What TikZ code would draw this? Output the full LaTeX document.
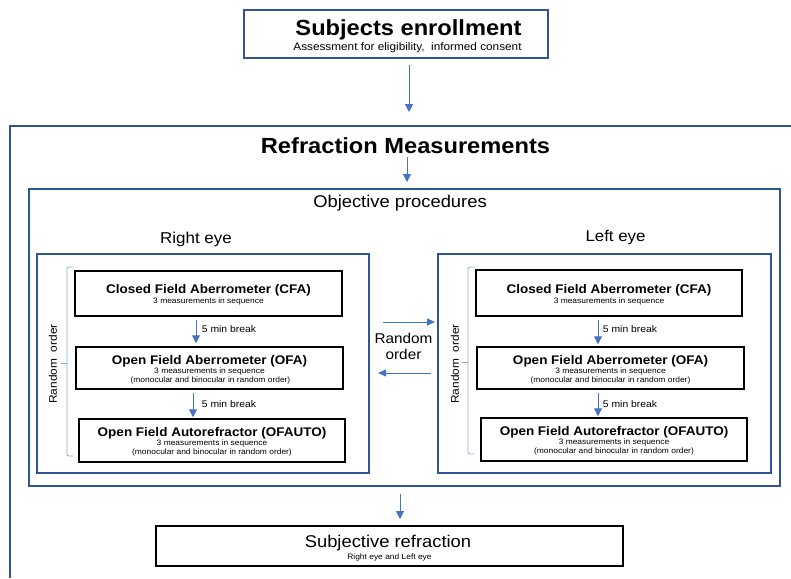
\documentclass[tikz,border=0pt]{standalone}
\usepackage{fontspec}
\setmainfont{Liberation Sans}[FakeStretch=1.08]
\usetikzlibrary{arrows.meta}
\definecolor{boxblue}{HTML}{2F5597}
\definecolor{arrblue}{HTML}{4472C4}
\definecolor{brkblue}{HTML}{8FAADC}
\newcommand{\myfs}[1]{\fontsize{#1}{#1}\selectfont}
\begin{document}
\begin{tikzpicture}[x=1pt,y=-1pt,
  bluebox/.style={draw=boxblue, line width=1.3pt, inner sep=0pt},
  blackbox/.style={draw=black, line width=1.5pt, inner sep=0pt, fill=white},
  txt/.style={inner sep=0pt, anchor=base},
  arr/.style={draw=arrblue, line width=1pt, -{Triangle[width=8pt,length=8pt]}},
  thinarr/.style={draw=arrblue, line width=0.8pt, -{Triangle[width=7pt,length=8pt]}},
  brk/.style={draw=brkblue, line width=0.8pt, rounded corners=2pt},
  boxtitle/.style={txt, font=\bfseries\myfs{12.5}},
  boxsub/.style={txt, font=\myfs{7.8}},
  brklabel/.style={txt, font=\myfs{9.6}}
]
\useasboundingbox (0,0) rectangle (791,578);
\fill[white] (0,0) rectangle (791,578);

% outer refraction box (partly outside the picture)
\coordinate (outTL) at (10,126);
\draw[boxblue, line width=1.3pt] (10,578) -- (outTL) -- (791,126);

% enrollment
\node[bluebox, minimum width=304pt, minimum height=48pt] (enroll) at (396,34) {};
\node[txt, font=\bfseries\myfs{21.9}] (enrollT) at (408.5,36) {Subjects enrollment};
\node[txt, font=\myfs{10.9}] (enrollS) at (407.5,50.7) {Assessment for eligibility,\ \ informed consent};
\coordinate (refTop) at (409,112);
\draw[arr] (409,65) -- (refTop);

% refraction title
\node[txt, font=\bfseries\myfs{21.9}] (refT) at (405.5,153) {Refraction Measurements};
\coordinate (objTop) at (407,182);
\draw[arr] (407,157) -- (objTop);

% objective procedures
\node[bluebox, minimum width=751pt, minimum height=297pt] (obj) at (404.5,337.5) {};
\node[txt, font=\myfs{17}] (objT) at (400,207.3) {Objective procedures};

\node[txt, font=\myfs{15.7}] (rightT) at (196,243) {Right eye};
\node[txt, font=\myfs{15.6}] (leftT) at (615.5,241) {Left eye};

% eye boxes
\node[bluebox, minimum width=332pt, minimum height=219pt] (reye) at (203,363.5) {};
\node[bluebox, minimum width=333pt, minimum height=219pt] (leye) at (604.5,363.5) {};

% right eye inner boxes
\node[blackbox, minimum width=267pt, minimum height=45pt] (cfaR) at (208.5,293.5) {};
\node[boxtitle] (cfaRt) at (208.5,293.3) {Closed Field Aberrometer (CFA)};
\node[boxsub] (cfaRs) at (208.5,303.3) {3 measurements in sequence};

\node[blackbox, minimum width=267pt, minimum height=42pt] (ofaR) at (209.5,368) {};
\node[boxtitle] (ofaRt) at (209.5,364) {Open Field Aberrometer (OFA)};
\node[boxsub] (ofaRs) at (209.5,373.3) {3 measurements in sequence};
\node[boxsub] (ofaRm) at (210.5,382.3) {(monocular and binocular in random order)};

\node[blackbox, minimum width=266pt, minimum height=43pt] (autoR) at (212,440.5) {};
\node[boxtitle] (autoRt) at (212,436) {Open Field Autorefractor (OFAUTO)};
\node[boxsub] (autoRs) at (212,445) {3 measurements in sequence};
\node[boxsub] (autoRm) at (212,454) {(monocular and binocular in random order)};

% left eye inner boxes
\node[blackbox, minimum width=266pt, minimum height=46pt] (cfaL) at (609,293) {};
\node[boxtitle] (cfaLt) at (609,293.3) {Closed Field Aberrometer (CFA)};
\node[boxsub] (cfaLs) at (609,303.3) {3 measurements in sequence};

\node[blackbox, minimum width=267pt, minimum height=42pt] (ofaL) at (610.5,368) {};
\node[boxtitle] (ofaLt) at (610.5,364) {Open Field Aberrometer (OFA)};
\node[boxsub] (ofaLs) at (610.5,373.3) {3 measurements in sequence};
\node[boxsub] (ofaLm) at (610.5,382.3) {(monocular and binocular in random order)};

\node[blackbox, minimum width=266pt, minimum height=43pt] (autoL) at (614,439.5) {};
\node[boxtitle] (autoLt) at (614,435.7) {Open Field Autorefractor (OFAUTO)};
\node[boxsub] (autoLs) at (614,444.7) {3 measurements in sequence};
\node[boxsub] (autoLm) at (614,453.7) {(monocular and binocular in random order)};

% arrows inside eyes
\draw[arr, shorten <=3pt, shorten >=3pt] ([xshift=-12.5pt]cfaR.south) -- ([xshift=-13.5pt]ofaR.north);
\draw[arr, shorten <=3pt, shorten >=1pt] ([xshift=-16.5pt]ofaR.south) -- ([xshift=-19pt]autoR.north);
\draw[arr, shorten <=3pt, shorten >=2pt] ([xshift=-11pt]cfaL.south) -- ([xshift=-12.5pt]ofaL.north);
\draw[arr, shorten <=3pt, shorten >=1pt] ([xshift=-12.5pt]ofaL.south) -- ([xshift=-16pt]autoL.north);
\node[brklabel] (brkR1) at (229,332.3) {5 min break};
\node[brklabel] (brkR2) at (229,407.7) {5 min break};
\node[brklabel] (brkL1) at (630,332.3) {5 min break};
\node[brklabel] (brkL2) at (630,407.7) {5 min break};

% brackets
\draw[brk] (73,267) -- (67,267) -- (67,456) -- (73,456);
\draw[brk] (61,363) -- (67,363);
\draw[brk] (474,267) -- (468,267) -- (468,454) -- (474,454);
\draw[brk] (462,362) -- (468,362);
\node[txt, font=\myfs{11}, rotate=90, anchor=center] (roR) at (53,364) {Random\ \ order};
\node[txt, font=\myfs{11}, rotate=90, anchor=center] (roL) at (455,364) {Random\ \ order};

% random order between eyes
\coordinate (rarrS) at (383,322);
\coordinate (rarrE) at (435,322);
\coordinate (larrS) at (431,373);
\coordinate (larrE) at (378,373);
\draw[thinarr] (rarrS) -- (rarrE);
\draw[thinarr] (larrS) -- (larrE);
\node[txt, font=\myfs{14.2}] (rand1) at (403.5,343.3) {Random};
\node[txt, font=\myfs{14.2}] (rand2) at (403.5,359.3) {order};

% subjective refraction
\coordinate (subjTop) at (400,519);
\draw[arr] (400,494) -- (subjTop);
\node[blackbox, minimum width=467pt, minimum height=40pt] (subj) at (389.5,546) {};
\node[txt, font=\myfs{17}] (subjT) at (388,547.7) {Subjective refraction};
\node[txt, font=\myfs{7.8}] (subjS) at (389.5,559) {Right eye and Left eye};
\end{tikzpicture}
\end{document}
